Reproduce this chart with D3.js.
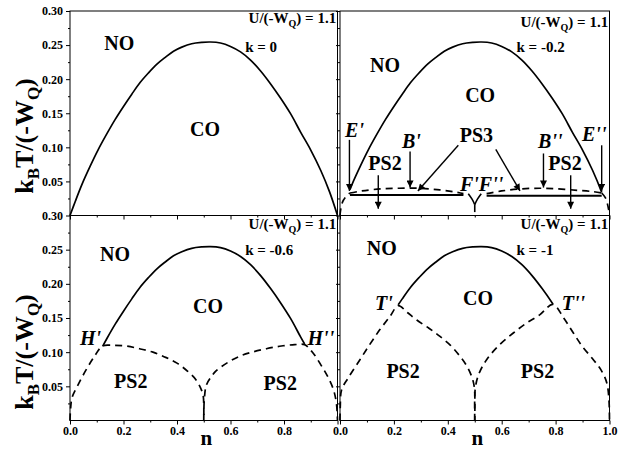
<!DOCTYPE html>
<html><head><meta charset="utf-8">
<script src="https://cdn.jsdelivr.net/npm/d3@7"></script>
<style>
body{margin:0;background:#fff}
svg{display:block}
text{font-family:"Liberation Serif","Times New Roman",serif;font-weight:bold;fill:#000}
</style>
</head><body>
<svg id="c" width="643" height="450"></svg>
<script>
// ---------------- data ----------------
const coN = [0, 0.02, 0.044, 0.075, 0.106, 0.138, 0.169, 0.2, 0.231, 0.262, 0.293, 0.325, 0.356, 0.387, 0.418, 0.455, 0.493, 0.525, 0.5625, 0.6, 0.6375, 0.675, 0.7125, 0.75, 0.7875, 0.825, 0.8625, 0.9, 0.9375, 0.97, 1.0];
const coT = [0, 0.021, 0.045, 0.072, 0.097, 0.12, 0.141, 0.16, 0.178, 0.195, 0.209, 0.222, 0.232, 0.241, 0.247, 0.252, 0.254, 0.2545, 0.253, 0.248, 0.240, 0.228, 0.212, 0.193, 0.172, 0.149, 0.122, 0.096, 0.066, 0.035, 0];
const kValues = ["0", "-0.2", "-0.6", "-1"];
const solidRange = [[0, 1], [0.037, 0.971], [0.122, 0.877], [0.216, 0.79]];

// k = -0.2 panel
const k02DashN = [
  [0, 0.004, 0.012, 0.025, 0.037],
  [0.037, 0.08, 0.15, 0.22, 0.29, 0.36, 0.42, 0.458],
  [0.544, 0.6, 0.67, 0.74, 0.81, 0.88, 0.94, 0.971],
  [0.971, 0.985, 0.993, 0.997, 1.0]];
const k02DashT = [
  [0, 0.012, 0.022, 0.029, 0.033],
  [0.033, 0.036, 0.039, 0.040, 0.040, 0.038, 0.035, 0.032],
  [0.032, 0.036, 0.039, 0.040, 0.039, 0.037, 0.035, 0.033],
  [0.033, 0.026, 0.016, 0.008, 0]];
const k02SolidN = [[0.037, 0.458], [0.544, 0.971], [0.476, 0.49, 0.5], [0.524, 0.51, 0.5], [0.5, 0.5]];
const k02SolidT = [[0.030, 0.030], [0.029, 0.029], [0.032, 0.024, 0.016], [0.032, 0.024, 0.016], [0.016, 0.005]];

// k = -0.6 panel
const k06DashN = [
  [0, 0.002, 0.008, 0.03, 0.06, 0.09, 0.122, 0.16, 0.21, 0.26, 0.31, 0.36, 0.40, 0.44, 0.47, 0.49, 0.498, 0.5],
  [0.5, 0.502, 0.51, 0.53, 0.547, 0.59, 0.634, 0.68, 0.734, 0.79, 0.84, 0.877, 0.91, 0.94, 0.965, 0.985, 0.996, 1.0]];
const k06DashT = [
  [0, 0.016, 0.034, 0.052, 0.074, 0.093, 0.109, 0.110, 0.109, 0.105, 0.100, 0.092, 0.084, 0.072, 0.060, 0.046, 0.036, 0],
  [0, 0.03, 0.052, 0.065, 0.073, 0.085, 0.094, 0.100, 0.105, 0.109, 0.111, 0.111, 0.098, 0.080, 0.063, 0.045, 0.025, 0]];

// k = -1 panel
const k1DashN = [
  [0, 0.001, 0.006, 0.03, 0.074, 0.11, 0.148, 0.185, 0.216, 0.25, 0.285, 0.33, 0.371, 0.41, 0.445, 0.47, 0.489, 0.497, 0.5, 0.5],
  [0.5, 0.5, 0.503, 0.515, 0.544, 0.59, 0.643, 0.69, 0.742, 0.79, 0.83, 0.866, 0.9, 0.94, 0.97, 0.99, 0.998, 1.0]];
const k1DashT = [
  [0, 0.02, 0.045, 0.062, 0.089, 0.111, 0.133, 0.152, 0.168, 0.158, 0.147, 0.135, 0.123, 0.110, 0.094, 0.080, 0.064, 0.052, 0.040, 0],
  [0, 0.035, 0.05, 0.068, 0.089, 0.110, 0.128, 0.142, 0.155, 0.170, 0.150, 0.128, 0.108, 0.089, 0.073, 0.055, 0.03, 0]];

// arrows in k = -0.2 panel
const arrowFromN = [0.035, 0.26, 0.439, 0.578, 0.755, 0.971, 0.142, 0.856];
const arrowFromT = [0.111, 0.094, 0.103, 0.097, 0.091, 0.103, 0.059, 0.059];
const arrowToN   = [0.035, 0.26, 0.289, 0.668, 0.755, 0.971, 0.142, 0.856];
const arrowToT   = [0.036, 0.041, 0.036, 0.036, 0.041, 0.036, 0.010, 0.010];

// labels: [text, n, T, anchor, italic]
const panelLabels = [
  [["NO", 0.184, 0.243, "middle", 0], ["CO", 0.505, 0.116, "middle", 0]],
  [["NO", 0.167, 0.211, "middle", 0], ["CO", 0.52, 0.167, "middle", 0],
   ["E'", 0.019, 0.115, "start", 1], ["B'", 0.23, 0.099, "start", 1], ["PS3", 0.506, 0.108, "middle", 0],
   ["B''", 0.735, 0.099, "start", 1], ["E''", 0.898, 0.109, "start", 1],
   ["PS2", 0.167, 0.067, "middle", 0], ["PS2", 0.835, 0.067, "middle", 0], ["F'F''", 0.445, 0.036, "start", 1]],
  [["NO", 0.168, 0.233, "middle", 0], ["CO", 0.516, 0.157, "middle", 0],
   ["H'", 0.037, 0.111, "start", 1], ["H''", 0.888, 0.111, "start", 1],
   ["PS2", 0.227, 0.047, "middle", 0], ["PS2", 0.786, 0.045, "middle", 0]],
  [["NO", 0.155, 0.242, "middle", 0], ["CO", 0.512, 0.169, "middle", 0],
   ["T'", 0.13, 0.162, "start", 1], ["T''", 0.823, 0.162, "start", 1],
   ["PS2", 0.234, 0.062, "middle", 0], ["PS2", 0.733, 0.062, "middle", 0]]
];
const headerT = [0.282, 0.2765, 0.280, 0.280];
const kLabelT = [0.240, 0.240, 0.242, 0.242];

const yMajor = [0.05, 0.10, 0.15, 0.20, 0.25, 0.30];
const yMinor = [0.025, 0.075, 0.125, 0.175, 0.225, 0.275];
const xMajor = [0, 0.2, 0.4, 0.6, 0.8, 1.0];
const xMinor = [0.1, 0.3, 0.5, 0.7, 0.9];
const xLabelsLeft = [0, 0.2, 0.4, 0.6, 0.8];
const xLabelsRight = [0, 0.2, 0.4, 0.6, 0.8, 1.0];

// ---------------- drawing ----------------
const svg = d3.select("#c");
const defs = svg.append("defs");
defs.append("marker").attr("id", "ah").attr("viewBox", "0 0 10 10")
  .attr("refX", 10).attr("refY", 5).attr("markerWidth", 9).attr("markerHeight", 7)
  .attr("markerUnits", "userSpaceOnUse").attr("orient", "auto")
  .append("path").attr("d", "M0,0 L10,5 L0,10 z").attr("fill", "#000");

const layout = [
  {x: 70, y: 11, w: 267.5, h: 204.5, yLab: true, xLab: null},
  {x: 340, y: 11, w: 269.5, h: 204.5, yLab: false, xLab: null},
  {x: 70, y: 215.5, w: 267.5, h: 205, yLab: true, xLab: xLabelsLeft},
  {x: 340, y: 215.5, w: 269.5, h: 205, yLab: false, xLab: xLabelsRight}
];

const coInterp = d3.scaleLinear().domain(coN).range(coT);
const fmtY = d3.format(".2f"), fmtX = d3.format(".1f");

layout.forEach((L, i) => {
  const g = svg.append("g").attr("transform", `translate(${L.x},${L.y})`);
  const xs = d3.scaleLinear().domain([0, 1]).range([0, L.w]);
  const ys = d3.scaleLinear().domain([0, 0.3]).range([L.h, 0]);
  const line = d3.line().x(d => xs(d[0])).y(d => ys(d[1])).curve(d3.curveCatmullRom.alpha(0.5));
  const lineLin = d3.line().x(d => xs(d[0])).y(d => ys(d[1]));

  g.append("rect").attr("width", L.w).attr("height", L.h)
    .attr("fill", "none").attr("stroke", "#000").attr("stroke-width", 1);

  const ax = (gen) => g.append("g").call(gen).call(s => s.select(".domain").remove())
    .attr("font-size", 12).attr("font-family", null);
  ax(d3.axisLeft(ys).tickValues(yMajor).tickSize(4).tickPadding(3)
    .tickFormat(d => L.yLab ? fmtY(d) : ""));
  ax(d3.axisLeft(ys).tickValues(yMinor).tickSize(2).tickFormat(""));
  ax(d3.axisBottom(xs).tickValues(xMajor).tickSize(4).tickPadding(2)
    .tickFormat(d => (L.xLab && L.xLab.some(v => Math.abs(v - d) < 1e-9)) ? fmtX(d) : ""))
    .attr("transform", `translate(0,${L.h})`);
  ax(d3.axisBottom(xs).tickValues(xMinor).tickSize(2).tickFormat(""))
    .attr("transform", `translate(0,${L.h})`);

  // CO solid curve
  const [lo, hi] = solidRange[i];
  const pts = [[lo, coInterp(lo)]];
  coN.forEach((n, j) => { if (n > lo + 1e-6 && n < hi - 1e-6) pts.push([n, coT[j]]); });
  pts.push([hi, coInterp(hi)]);
  g.append("path").attr("d", line(pts)).attr("fill", "none")
    .attr("stroke", "#000").attr("stroke-width", 1.7);

  let dN = [], dT = [];
  if (i === 1) { dN = k02DashN; dT = k02DashT; }
  if (i === 2) { dN = k06DashN; dT = k06DashT; }
  if (i === 3) { dN = k1DashN; dT = k1DashT; }
  dN.forEach((arr, j) => {
    const p = arr.map((n, m) => [n, dT[j][m]]);
    g.append("path").attr("d", line(p)).attr("fill", "none")
      .attr("stroke", "#000").attr("stroke-width", 1.7).attr("stroke-dasharray", "7,5");
  });
  if (i === 1) {
    k02SolidN.forEach((arr, j) => {
      const p = arr.map((n, m) => [n, k02SolidT[j][m]]);
      g.append("path").attr("d", (j < 2 ? lineLin : line)(p)).attr("fill", "none")
        .attr("stroke", "#000").attr("stroke-width", j < 2 ? 2 : 1.6);
    });
    arrowFromN.forEach((n, j) => {
      g.append("line").attr("x1", xs(n)).attr("y1", ys(arrowFromT[j]))
        .attr("x2", xs(arrowToN[j])).attr("y2", ys(arrowToT[j]))
        .attr("stroke", "#000").attr("stroke-width", 1.4).attr("marker-end", "url(#ah)");
    });
  }

  const hdr = g.append("text").attr("x", xs(0.995)).attr("y", ys(headerT[i]))
    .attr("text-anchor", "end").attr("font-size", 15);
  hdr.append("tspan").text("U/(-W");
  hdr.append("tspan").attr("dy", 4).attr("font-size", 10).text("Q");
  hdr.append("tspan").attr("dy", -4).text(") = 1.1");
  g.append("text").attr("x", xs(0.655)).attr("y", ys(kLabelT[i]))
    .attr("font-size", 15).text("k = " + kValues[i]);

  panelLabels[i].forEach(lb => {
    g.append("text").attr("x", xs(lb[1])).attr("y", ys(lb[2]))
      .attr("text-anchor", lb[3]).attr("font-size", 20)
      .attr("font-style", lb[4] ? "italic" : "normal").text(lb[0]);
  });
});

// axis titles
[136, 352].forEach(cy => {
  const t = svg.append("text").attr("transform", `translate(33,${cy}) rotate(-90)`)
    .attr("text-anchor", "middle").attr("font-size", 26);
  t.append("tspan").text("k");
  t.append("tspan").attr("dy", 6).attr("font-size", 17).text("B");
  t.append("tspan").attr("dy", -6).text("T/(-W");
  t.append("tspan").attr("dy", 6).attr("font-size", 17).text("Q");
  t.append("tspan").attr("dy", -6).text(")");
});
[[70, 267.5], [340, 269.5]].forEach(([x0, w]) => {
  svg.append("text").attr("x", x0 + w * 0.51).attr("y", 445)
    .attr("text-anchor", "middle").attr("font-size", 21).text("n");
});
</script>
</body></html>
